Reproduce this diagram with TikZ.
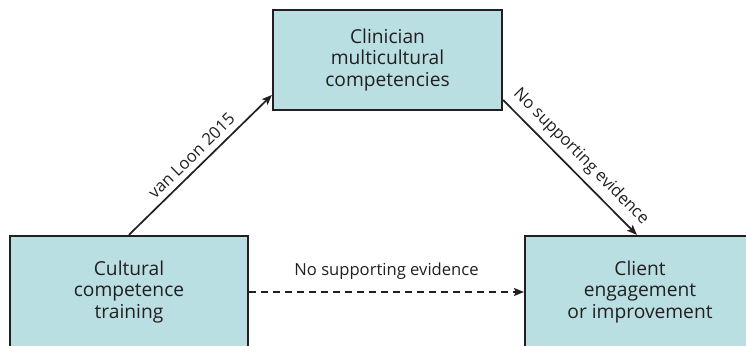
\documentclass[tikz,border=0pt]{standalone}
\usepackage{fontspec}
\setmainfont{Open Sans}
\usetikzlibrary{arrows.meta}
\definecolor{boxfill}{HTML}{B9DFE2}
\definecolor{ink}{HTML}{231F20}
\tikzset{
  box/.style={draw=ink, line width=2.2pt, fill=boxfill, align=center, inner sep=0pt,
    font=\fontsize{19.2}{21.5}\selectfont, text=ink},
  arr/.style={draw=ink, line width=1.7pt, -{Stealth[length=10pt,width=8pt,inset=2pt]}},
  lab/.style={font=\fontsize{16.6}{18}\selectfont, text=ink, inner sep=0pt},
}
\begin{document}
\begin{tikzpicture}[x=1pt,y=1pt]
\useasboundingbox (0,0) rectangle (746,345);
\clip (0,0) rectangle (746,345);
\node[box, minimum width=229pt, minimum height=100pt] (cmc) at (387.5,285) {Clinician\\multicultural\\competencies};
\node[box, minimum width=238pt, minimum height=112pt] (cct) at (129,53) {Cultural\\competence\\training};
\node[box, minimum width=230pt, minimum height=112pt] (cce) at (640,53) {Client\\engagement\\or improvement};
\draw[arr] ([xshift=120pt]cct.north west) -- node[lab, midway, sloped, above=6pt] {van Loon 2015} ([yshift=-35pt]cmc.west);
\draw[arr] ([yshift=-40pt]cmc.east) -- node[lab, midway, sloped, above=6pt] {No supporting evidence} ([xshift=113pt]cce.north west);
\draw[arr, dashed, dash pattern=on 7pt off 5pt] (cct.east) -- node[lab, midway, above=12pt] {No supporting evidence} (cce.west);
\end{tikzpicture}
\end{document}
